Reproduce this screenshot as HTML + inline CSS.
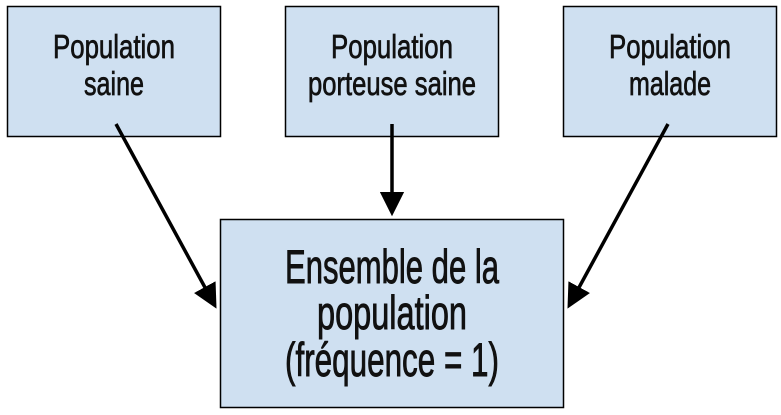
<!DOCTYPE html>
<html><head><meta charset="utf-8"><style>html,body{margin:0;padding:0;background:#fff;}svg{display:block}</style></head>
<body>
<svg width="781" height="415" viewBox="0 0 781 415" xmlns="http://www.w3.org/2000/svg">
<defs><marker id="a" markerWidth="7" markerHeight="7" refX="5.5" refY="3.5" orient="auto" markerUnits="strokeWidth"><path d="M0,0 L7,3.5 L0,7 z" fill="#000"/></marker></defs>
<g fill="#cfe0f1" stroke="#000" stroke-width="1.5">
<rect x="7.5" y="6.5" width="213" height="130"/>
<rect x="285.5" y="6.5" width="213" height="130"/>
<rect x="563.5" y="6.5" width="213" height="130"/>
<rect x="220.5" y="219.5" width="343" height="188"/>
</g>
<g stroke="#000" stroke-width="3.5" marker-end="url(#a)">
<line x1="116" y1="124" x2="214" y2="304"/>
<line x1="392" y1="124" x2="392" y2="211"/>
<line x1="668" y1="124" x2="570" y2="304"/>
</g>
<g font-family="Liberation Sans, sans-serif" fill="#111" stroke="#111" stroke-width="0.7" text-anchor="middle" font-size="33">
<text x="114" y="58" textLength="122" lengthAdjust="spacingAndGlyphs">Population</text>
<text x="114" y="95" textLength="60" lengthAdjust="spacingAndGlyphs">saine</text>
<text x="392" y="58" textLength="122" lengthAdjust="spacingAndGlyphs">Population</text>
<text x="392" y="95" textLength="168" lengthAdjust="spacingAndGlyphs">porteuse saine</text>
<text x="670" y="58" textLength="122" lengthAdjust="spacingAndGlyphs">Population</text>
<text x="670" y="95" textLength="82" lengthAdjust="spacingAndGlyphs">malade</text>
</g>
<g font-family="Liberation Sans, sans-serif" fill="#111" stroke="#111" stroke-width="0.9" text-anchor="middle" font-size="47">
<text x="392" y="283" textLength="214" lengthAdjust="spacingAndGlyphs">Ensemble de la</text>
<text x="392" y="329" textLength="150" lengthAdjust="spacingAndGlyphs">population</text>
<text x="392" y="376" textLength="214" lengthAdjust="spacingAndGlyphs">(fréquence = 1)</text>
</g>
</svg>
</body></html>
